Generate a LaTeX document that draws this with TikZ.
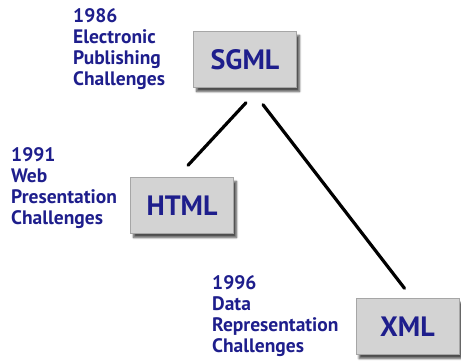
\documentclass[tikz,border=0pt]{standalone}
\usepackage{fontspec}
\setmainfont{PT Sans}
\usetikzlibrary{shadows.blur}
\definecolor{navy}{HTML}{1E1E8C}
\definecolor{boxgray}{HTML}{D3D3D3}
\tikzset{
  era/.style={anchor=north west, inner sep=0pt, align=left, text=navy,
    font=\bfseries\fontsize{19.5}{21}\selectfont},
  lang/.style={fill=boxgray, draw=gray!70, line width=0.4pt,
    minimum width=103pt, minimum height=56pt, inner sep=0pt,
    text=navy, font=\bfseries\fontsize{28}{30}\selectfont,
    blur shadow={shadow xshift=3pt, shadow yshift=-4pt, shadow blur steps=6,
      shadow blur radius=2pt, shadow opacity=70}},
  link/.style={line width=3.2pt, line cap=round, black}
}
\begin{document}
\begin{tikzpicture}[x=1pt, y=-1pt]
  \useasboundingbox (0,0) rectangle (461,362);
  % languages
  \node[lang] (sgml) at (245,59.5) {SGML};
  \node[lang] (html) at (182,205.5) {HTML};
  \node[lang] (xml)  at (407.5,326.5) {XML};
  % eras
  \node[era] (e86) at (73,8) {1986\\Electronic\\Publishing\\Challenges};
  \node[era] (e91) at (11,147) {1991\\Web\\Presentation\\Challenges};
  \node[era] (e96) at (212,275) {1996\\Data\\Representation\\Challenges};
  % lineage
  \coordinate (s1) at ([xshift=1pt, yshift=-15pt]sgml.south);
  \coordinate (h1) at ([xshift=6pt, yshift=12pt]html.north);
  \coordinate (s2) at ([xshift=18pt, yshift=-17pt]sgml.south);
  \coordinate (x1) at ([xshift=-3pt, yshift=10pt]xml.north);
  \draw[link] (s1) -- (h1);
  \draw[link] (s2) -- (x1);
\end{tikzpicture}
\end{document}
